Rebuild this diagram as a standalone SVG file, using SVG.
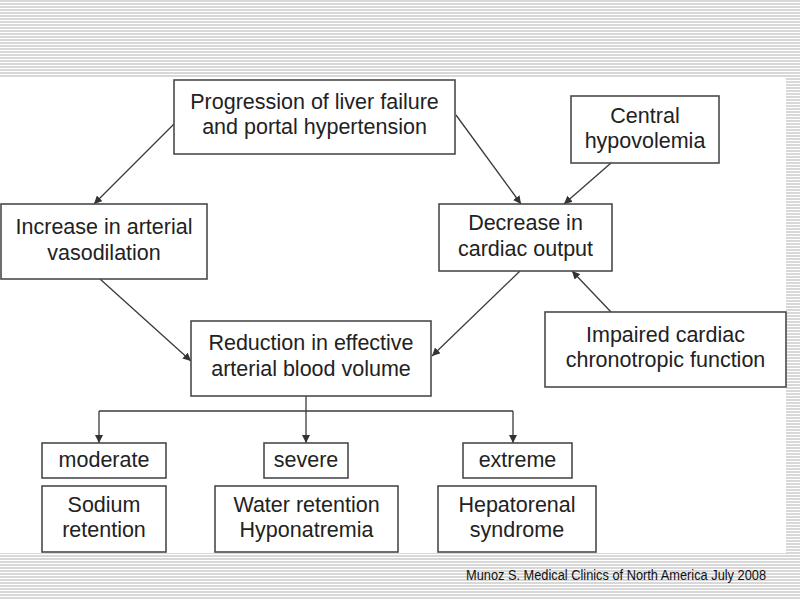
<svg xmlns="http://www.w3.org/2000/svg" width="800" height="600" viewBox="0 0 800 600">
  <defs>
    <pattern id="stripes" x="0" y="0" width="8" height="3" patternUnits="userSpaceOnUse">
      <rect x="0" y="0" width="8" height="3" fill="#ffffff"/>
      <rect x="0" y="0" width="8" height="2" fill="#d8d8d8"/>
    </pattern>
    <marker id="arrow" viewBox="0 0 10 10" refX="10" refY="5" markerWidth="8" markerHeight="8" markerUnits="userSpaceOnUse" orient="auto">
      <path d="M0,0 L10,5 L0,10 z" fill="#333333"/>
    </marker>
  </defs>
  <style>
    .box { fill: #ffffff; stroke: #4a4a4a; stroke-width: 1.6; }
    .label { font-family: "Liberation Sans", Arial, sans-serif; font-size: 21.5px; fill: #222222; text-anchor: middle; }
    .conn { stroke: #3a3a3a; stroke-width: 1.3; fill: none; }
    .arr { marker-end: url(#arrow); }
    .footer { font-family: "Liberation Sans", Arial, sans-serif; font-size: 14px; fill: #111111; }
  </style>

  <!-- background -->
  <rect x="0" y="0" width="800" height="600" fill="url(#stripes)"/>
  <rect x="0" y="78" width="786" height="475" fill="#ffffff"/>

  <!-- connectors -->
  <g id="connectors">
    <line class="conn arr" x1="174" y1="124" x2="94" y2="204"/>
    <line class="conn arr" x1="100" y1="279" x2="191" y2="361"/>
    <line class="conn arr" x1="456" y1="115" x2="521" y2="204"/>
    <line class="conn arr" x1="611" y1="163" x2="564" y2="204"/>
    <line class="conn arr" x1="520" y1="271" x2="432" y2="356"/>
    <line class="conn arr" x1="611" y1="312" x2="572" y2="271"/>
    <polyline class="conn" points="306,396 306,411"/>
    <polyline class="conn" points="99,411 513,411"/>
    <line class="conn arr" x1="99" y1="411" x2="99" y2="443"/>
    <line class="conn arr" x1="306" y1="411" x2="306" y2="443"/>
    <line class="conn arr" x1="513" y1="411" x2="513" y2="443"/>
  </g>

  <g id="progression">
    <rect class="box" x="174" y="80" width="281" height="74"/>
    <text class="label" x="314.5" y="109">Progression of liver failure</text>
    <text class="label" x="314.5" y="134">and portal hypertension</text>
  </g>
  <g id="increase">
    <rect class="box" x="1" y="204" width="206" height="75"/>
    <text class="label" x="104" y="234">Increase in arterial</text>
    <text class="label" x="104" y="260">vasodilation</text>
  </g>
  <g id="central">
    <rect class="box" x="571" y="96" width="148" height="67"/>
    <text class="label" x="645" y="123">Central</text>
    <text class="label" x="645" y="148">hypovolemia</text>
  </g>
  <g id="decrease">
    <rect class="box" x="439" y="204" width="173" height="67"/>
    <text class="label" x="525.5" y="230">Decrease in</text>
    <text class="label" x="525.5" y="256">cardiac output</text>
  </g>
  <g id="reduction">
    <rect class="box" x="191" y="321" width="240" height="75"/>
    <text class="label" x="311" y="350">Reduction in effective</text>
    <text class="label" x="311" y="376">arterial blood volume</text>
  </g>
  <g id="impaired">
    <rect class="box" x="545" y="312" width="241" height="75"/>
    <text class="label" x="665.5" y="342">Impaired cardiac</text>
    <text class="label" x="665.5" y="367">chronotropic function</text>
  </g>
  <g id="moderate">
    <rect class="box" x="42" y="443" width="124" height="35"/>
    <text class="label" x="104" y="467">moderate</text>
  </g>
  <g id="severe">
    <rect class="box" x="264" y="443" width="84" height="35"/>
    <text class="label" x="306" y="467">severe</text>
  </g>
  <g id="extreme">
    <rect class="box" x="463" y="443" width="109" height="35"/>
    <text class="label" x="517.5" y="467">extreme</text>
  </g>
  <g id="sodium">
    <rect class="box" x="42" y="486" width="124" height="66"/>
    <text class="label" x="104" y="512">Sodium</text>
    <text class="label" x="104" y="537">retention</text>
  </g>
  <g id="water">
    <rect class="box" x="215" y="486" width="183" height="66"/>
    <text class="label" x="306.5" y="512">Water retention</text>
    <text class="label" x="306.5" y="537">Hyponatremia</text>
  </g>
  <g id="hepatorenal">
    <rect class="box" x="438" y="486" width="158" height="66"/>
    <text class="label" x="517" y="512">Hepatorenal</text>
    <text class="label" x="517" y="537">syndrome</text>
  </g>

  <text class="footer" x="466" y="580" textLength="300" lengthAdjust="spacingAndGlyphs">Munoz S. Medical Clinics of North America July 2008</text>
</svg>
